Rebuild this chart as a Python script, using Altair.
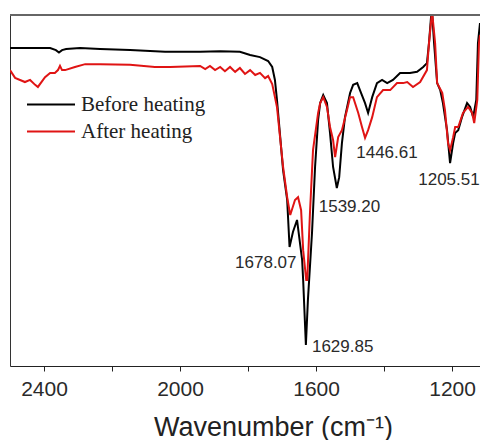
import altair as alt
import pandas as pd

# ---- data ----
series_names = ["Before heating", "After heating"]
series_colors = ["#000000", "#e01414"]

before_wn = [2500, 2441, 2382, 2365, 2356, 2347, 2335, 2294, 2235, 2147, 2044, 1941, 1882,
             1824, 1794, 1765, 1741, 1729, 1721, 1715, 1697, 1685, 1678, 1668, 1656, 1641,
             1638, 1630, 1624, 1612, 1603, 1594, 1588, 1579, 1568, 1559, 1550, 1539, 1532,
             1524, 1515, 1500, 1491, 1479, 1471, 1456, 1447, 1435, 1421, 1406, 1391, 1374,
             1353, 1324, 1303, 1285, 1274, 1268, 1262, 1259, 1253, 1244, 1235, 1227, 1215,
             1206, 1197, 1191, 1182, 1171, 1156, 1147, 1138, 1129, 1124, 1118]
before_t = [90.6, 90.6, 90.6, 90.0, 89.3, 90.0, 90.3, 90.6, 90.3, 90.0, 89.5, 89.5, 89.7,
            89.5, 88.6, 88.0, 86.9, 85.2, 81.5, 75.8, 55.8, 47.3, 33.9, 38.2, 41.6, 30.2,
            24.5, 6.0, 18.8, 37.9, 56.7, 70.1, 74.9, 77.2, 74.9, 66.4, 56.7, 50.7, 53.8,
            63.5, 70.9, 77.8, 80.1, 80.6, 78.6, 74.9, 72.1, 76.6, 80.6, 81.5, 80.6, 81.5,
            83.5, 83.5, 83.8, 85.2, 86.3, 92.0, 99.4, 101.0, 92.0, 80.6, 78.6, 74.9, 67.2,
            57.8, 63.5, 66.4, 67.2, 70.9, 74.9, 73.8, 70.9, 75.8, 92.0, 97.7]

after_wn = [2500, 2485, 2456, 2441, 2426, 2418, 2397, 2382, 2368, 2359, 2353, 2347, 2338,
            2309, 2279, 2235, 2147, 2074, 2029, 1941, 1926, 1912, 1897, 1882, 1868, 1853,
            1838, 1824, 1809, 1794, 1779, 1765, 1750, 1741, 1729, 1721, 1715, 1697, 1685,
            1676, 1662, 1653, 1644, 1638, 1629, 1626, 1618, 1609, 1594, 1588, 1579, 1568,
            1559, 1550, 1544, 1535, 1524, 1509, 1500, 1491, 1476, 1465, 1456, 1447, 1435,
            1421, 1403, 1382, 1362, 1344, 1332, 1315, 1294, 1274, 1268, 1259, 1250, 1244,
            1229, 1221, 1212, 1206, 1197, 1191, 1182, 1168, 1153, 1141, 1135, 1126, 1121, 1118]
after_t = [84.3, 82.1, 80.9, 81.5, 80.1, 79.5, 82.3, 83.5, 83.5, 84.3, 85.5, 84.3, 84.3,
           85.2, 86.0, 86.0, 85.8, 85.2, 85.2, 85.5, 84.6, 85.5, 84.3, 85.2, 84.0, 85.2,
           83.8, 84.9, 83.2, 84.3, 82.9, 83.5, 82.0, 82.6, 80.3, 76.6, 73.8, 56.7, 48.1,
           43.0, 47.3, 48.1, 44.4, 33.0, 24.5, 24.5, 43.6, 61.5, 72.1, 74.9, 76.6, 73.8,
           68.1, 64.4, 59.5, 65.2, 67.2, 72.9, 76.6, 76.6, 72.1, 68.1, 65.0, 67.2, 70.9,
           76.6, 78.6, 78.6, 80.6, 80.6, 80.9, 79.5, 80.9, 84.3, 92.0, 101.0, 92.0, 80.6,
           77.8, 72.9, 63.5, 61.5, 65.2, 68.1, 68.1, 72.1, 73.8, 72.1, 69.2, 75.8, 92.0, 94.3]

peak_labels = ["1629.85", "1678.07", "1539.20", "1446.61", "1205.51"]
peak_t = [6.0, 33.9, 50.7, 72.1, 57.8]

x_ticks = [2400, 2200, 2000, 1800, 1600, 1400, 1200]

# ---- tables ----
rows = []
for name, wns, ts in [(series_names[0], before_wn, before_t), (series_names[1], after_wn, after_t)]:
    for i, (w, t) in enumerate(zip(wns, ts)):
        rows.append({"series": name, "wn": w, "T": t, "order": i})
df = pd.DataFrame(rows)

peaks = pd.DataFrame({"wn": [float(s) for s in peak_labels], "T": peak_t, "label": peak_labels})

W, H = 470, 351
FONT = "Liberation Sans"

x_enc = alt.X("wn:Q",
              scale=alt.Scale(domain=[1118, 2500], reverse=True, nice=False, zero=False),
              axis=alt.Axis(values=x_ticks, format="d",
                            labelExpr="datum.value % 400 == 0 ? datum.label : ''",
                            title="Wavenumber (cm⁻¹)", titleFont=FONT, titleFontSize=27,
                            titleFontWeight="normal", titleColor="#222222",
                            titleX=263, titleY=69, titleBaseline="alphabetic", titleAlign="center",
                            labelFont=FONT, labelFontSize=21, labelColor="#2a2a2a", labelPadding=7,
                            tickSize=5, tickColor="#222222", domainColor="#222222",
                            grid=False, labelFlush=False))
y_enc = alt.Y("T:Q", scale=alt.Scale(domain=[0, 100], nice=False, zero=False),
              axis=alt.Axis(labels=False, ticks=False, title=None, grid=False,
                            domainColor="#333333"))

lines = alt.Chart(df).mark_line(strokeWidth=2, clip=True).encode(
    x=x_enc, y=y_enc, order="order:Q",
    color=alt.Color("series:N",
                    scale=alt.Scale(domain=series_names, range=series_colors),
                    sort=series_names,
                    legend=alt.Legend(orient="none", legendX=16, legendY=76, title=None,
                                      symbolType="stroke", symbolSize=2304, symbolStrokeWidth=2,
                                      labelFont="Liberation Serif", labelFontSize=21,
                                      labelColor="#222222", labelOffset=5, clipHeight=27,
                                      rowPadding=0, padding=0)))

top_border = alt.Chart(df).mark_rule(color="#666666", strokeWidth=1).encode(
    x=alt.value(0), x2=alt.value(W), y=alt.value(0))

offsets = [("left", 6, 2), ("right", 7, 16), ("left", -18, 19), ("left", -12, 40), ("left", -32, 17)]
label_layers = []
for i, (al, dx, dy) in enumerate(offsets):
    label_layers.append(
        alt.Chart(peaks.iloc[[i]]).mark_text(align=al, baseline="middle", dx=dx, dy=dy,
                                            font=FONT, fontSize=17, color="#2a2a2a").encode(
            x=alt.X("wn:Q"), y=alt.Y("T:Q"), text="label:N"))

chart = alt.layer(lines, top_border, *label_layers).properties(
    width=W, height=H,
    autosize=alt.AutoSizeParams(type="none"),
    padding={"left": 10, "top": 15, "right": 0, "bottom": 74},
).configure_view(stroke=None).configure(background="white")

chart.save("out.html", embed_options={"renderer": "svg", "actions": False})
